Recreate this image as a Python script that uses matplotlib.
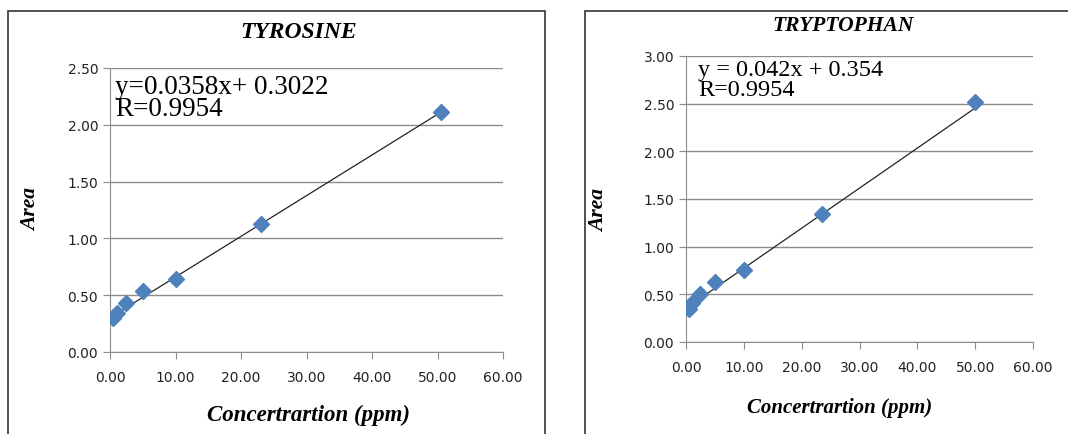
import matplotlib
matplotlib.use("Agg")
import numpy as np
import matplotlib.pyplot as plt
from matplotlib.patches import Rectangle

# ---- data ----
tyr_conc = [0.5, 1.0, 2.5, 5.0, 10.0, 23.0, 50.6]
tyr_area = [0.30, 0.345, 0.43, 0.533, 0.645, 1.128, 2.115]
tyr_fit = (0.0358, 0.3022)
tyr_eq = "y=0.0358x+ 0.3022\nR=0.9954"

trp_conc = [0.5, 1.0, 2.5, 5.0, 10.0, 23.5, 50.0]
trp_area = [0.35, 0.41, 0.506, 0.628, 0.757, 1.343, 2.52]
trp_fit = (0.042, 0.354)
trp_eq = "y = 0.042x + 0.354\nR=0.9954"

x_ticks = [0, 10, 20, 30, 40, 50, 60]
tyr_yticks = [0, 0.5, 1.0, 1.5, 2.0, 2.5]
trp_yticks = [0, 0.5, 1.0, 1.5, 2.0, 2.5, 3.0]

W, H = 1068, 435
fig = plt.figure(figsize=(W / 100, H / 100), dpi=100)

# panel frames (px -> figure fraction)
def box(x0, y0, x1, y1):
    fig.patches.append(Rectangle((x0 / W, 1 - y1 / H), (x1 - x0) / W, (y1 - y0) / H,
                                 transform=fig.transFigure, fill=False,
                                 edgecolor="#333333", lw=1.2))

box(8, 12, 545, 440)
box(585, 12, 1075, 440)

serif = dict(family="Liberation Serif", style="italic", weight="bold")

def panel(rect, xs, ys, fit, eq, yticks, title, sizes, pos):
    ax = fig.add_axes(rect)
    m, b = fit
    xl = np.array([min(xs), max(xs)])
    ax.plot(xl, m * xl + b, color="#222222", lw=0.9, zorder=3)
    ax.plot(xs, ys, ls="", marker="D", ms=8, color="#4F81BD", zorder=4)
    ax.set_xlim(0, 60)
    ax.set_ylim(yticks[0], yticks[-1])
    ax.set_xticks(x_ticks)
    ax.set_yticks(yticks)
    ax.set_xticklabels(["%.2f" % v for v in x_ticks])
    ax.set_yticklabels(["%.2f" % v for v in yticks])
    ax.yaxis.grid(True, color="#8c8c8c", lw=1)
    ax.set_axisbelow(True)
    for s in ("top", "right"):
        ax.spines[s].set_visible(False)
    for s in ("left", "bottom"):
        ax.spines[s].set_color("#8c8c8c")
    ax.tick_params(colors="#8c8c8c", labelcolor="#222222", labelsize=10,
                   length=5, direction="out")
    ax.tick_params(axis="x", pad=8)
    ax.set_xlabel("Concertrartion (ppm)", fontsize=sizes[1], **serif)
    ax.set_ylabel("Area", fontsize=sizes[2], **serif)
    ax.xaxis.set_label_coords(pos["xl"][0], pos["xl"][1])
    ax.yaxis.set_label_coords(pos["yl"][0], pos["yl"][1])
    ax.text(pos["t"][0], pos["t"][1], title, transform=ax.transAxes,
            ha="center", va="center", fontsize=sizes[0], **serif)
    ax.text(pos["eq"][0], pos["eq"][1], eq, transform=ax.transAxes, ha="left", va="top",
            family="Liberation Serif", fontsize=sizes[3], linespacing=pos["ls"])
    return ax

panel([110 / W, 1 - 353 / H, (503 - 110) / W, (353 - 69) / H],
      tyr_conc, tyr_area, tyr_fit, tyr_eq, tyr_yticks, "TYROSINE",
      (17, 16.5, 15.5, 19.5),
      {"xl": (0.505, -0.183), "yl": (-0.175, 0.504), "t": (0.481, 1.13),
       "eq": (0.013, 0.98), "ls": 0.85})
panel([686 / W, 1 - 343 / H, (1033 - 686) / W, (343 - 57) / H],
      trp_conc, trp_area, trp_fit, trp_eq, trp_yticks, "TRYPTOPHAN",
      (15.5, 15, 15.5, 17.5),
      {"xl": (0.444, -0.192), "yl": (-0.222, 0.465), "t": (0.452, 1.108),
       "eq": (0.035, 0.99), "ls": 0.95})

fig.savefig("out.png", dpi=100)
